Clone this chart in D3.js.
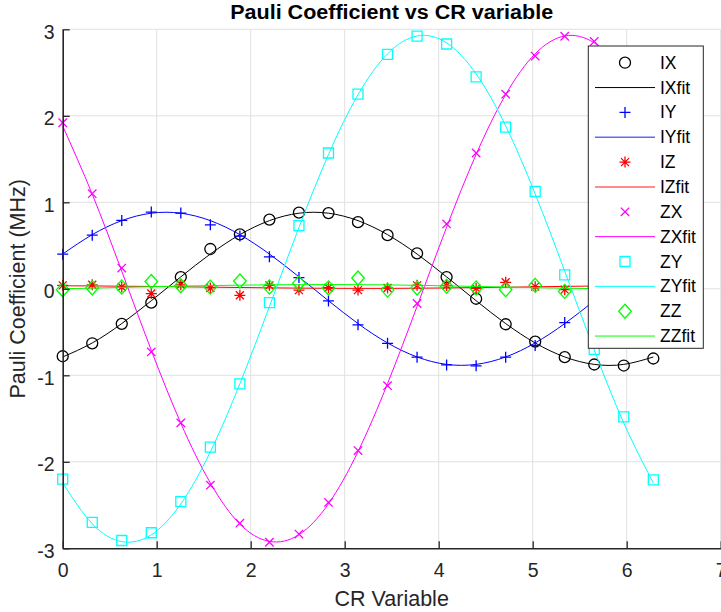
<!DOCTYPE html>
<html>
<head>
<meta charset="utf-8">
<script src="https://cdn.jsdelivr.net/npm/d3@7"></script>
<style>
  html, body { margin: 0; padding: 0; background: #fff; }
  svg { display: block; font-family: "Liberation Sans", Arial, sans-serif; }
</style>
</head>
<body>
<svg id="chart" width="721" height="612"></svg>
<script>
// ---------- data ----------
const xVals = [0, 0.3142, 0.6283, 0.9425, 1.2566, 1.5708, 1.8850, 2.1991, 2.5133, 2.8274,
  3.1416, 3.4558, 3.7699, 4.0841, 4.3982, 4.7124, 5.0265, 5.3407, 5.6549, 5.9690, 6.2832];

const IX    = [-0.78, -0.63, -0.405, -0.16, 0.135, 0.46, 0.63, 0.80, 0.88, 0.875, 0.77, 0.62, 0.41, 0.135, -0.115, -0.41, -0.61, -0.79, -0.875, -0.887, -0.806];
const IXfit = [-0.788, -0.626, -0.402, -0.138, 0.138, 0.402, 0.626, 0.788, 0.874, 0.874, 0.788, 0.626, 0.402, 0.138, -0.138, -0.402, -0.626, -0.788, -0.874, -0.874, -0.788];

const IY    = [0.40, 0.62, 0.79, 0.887, 0.875, 0.74, 0.61, 0.37, 0.13, -0.14, -0.416, -0.63, -0.79, -0.88, -0.89, -0.79, -0.655, -0.39, -0.12, 0.14, 0.40];
const IYfit = [0.402, 0.626, 0.788, 0.874, 0.874, 0.788, 0.626, 0.402, 0.138, -0.138, -0.402, -0.626, -0.788, -0.874, -0.874, -0.788, -0.626, -0.402, -0.138, 0.138, 0.402];

const IZ    = [0.04, 0.046, 0.02, -0.055, 0.046, 0.01, -0.075, 0.04, -0.015, 0.012, -0.015, 0.01, 0.04, 0.038, 0.005, 0.075, 0.025, -0.01, 0.03, 0.05, 0.02];
const IZfit = [0.035, 0.033, 0.030, 0.027, 0.023, 0.019, 0.015, 0.011, 0.008, 0.006, 0.005, 0.005, 0.007, 0.010, 0.014, 0.018, 0.023, 0.028, 0.032, 0.035, 0.037];

const ZX    = [1.92, 1.10, 0.24, -0.73, -1.55, -2.27, -2.71, -2.93, -2.836, -2.47, -1.87, -1.12, -0.17, 0.75, 1.57, 2.25, 2.69, 2.92, 2.86, 2.45, 1.90];
const ZXfit = [1.882, 1.094, 0.203, -0.711, -1.554, -2.245, -2.720, -2.920, -2.843, -2.486, -1.882, -1.096, -0.203, 0.711, 1.554, 2.245, 2.717, 2.923, 2.843, 2.484, 1.882];

const ZY    = [-2.20, -2.70, -2.91, -2.82, -2.46, -1.83, -1.10, -0.16, 0.73, 1.57, 2.25, 2.71, 2.92, 2.83, 2.45, 1.87, 1.125, 0.16, -0.70, -1.48, -2.21];
const ZYfit = [-2.244, -2.716, -2.923, -2.844, -2.487, -1.884, -1.098, -0.205, 0.708, 1.552, 2.244, 2.716, 2.923, 2.843, 2.485, 1.884, 1.097, 0.205, -0.708, -1.552, -2.244];

const ZZ    = [-0.01, 0.01, 0.02, 0.085, 0.035, 0.02, 0.09, 0.02, 0.065, 0.01, 0.125, -0.015, 0.01, 0.03, 0.01, -0.01, 0.04, -0.03, 0.02, 0.01, 0.0];
const ZZfit = [0.0, 0.008, 0.016, 0.024, 0.031, 0.037, 0.042, 0.046, 0.048, 0.049, 0.048, 0.045, 0.040, 0.034, 0.027, 0.020, 0.013, 0.007, 0.002, -0.002, -0.004];

const xTicks = [0, 1, 2, 3, 4, 5, 6, 7];
const yTicks = [-3, -2, -1, 0, 1, 2, 3];

const titleText = "Pauli Coefficient vs CR variable";
const xLabel = "CR Variable";
const yLabel = "Pauli Coefficient (MHz)";

const seriesNames = ["IX", "IY", "IZ", "ZX", "ZY", "ZZ"];
const seriesData  = [IX, IY, IZ, ZX, ZY, ZZ];
const seriesFits  = [IXfit, IYfit, IZfit, ZXfit, ZYfit, ZZfit];
const seriesColors = ["#000000", "#0000ff", "#ff0000", "#ff00ff", "#00ffff", "#00ff00"];
const seriesMarkers = ["circle", "plus", "asterisk", "x", "square", "diamond"];

// ---------- layout ----------
const svg = d3.select("#chart");
const L = 62.7, R = 720.7, T = 29.3, B = 548.3;
const x = d3.scaleLinear().domain([0, 7]).range([L, R]);
const y = d3.scaleLinear().domain([-3, 3]).range([B, T]);
const axisColor = "#262626";

// grid
const grid = svg.append("g");
grid.selectAll("line.gx").data(xTicks.filter(d => d > 0)).join("line")
  .attr("x1", d => x(d)).attr("x2", d => x(d)).attr("y1", T).attr("y2", B)
  .attr("stroke", "#e0e0e0").attr("stroke-width", 1);
grid.selectAll("line.gy").data(yTicks.filter(d => d > -3)).join("line")
  .attr("x1", L).attr("x2", R).attr("y1", d => y(d)).attr("y2", d => y(d))
  .attr("stroke", "#e0e0e0").attr("stroke-width", 1);

// marker path generator
function markerPath(type, cx, cy) {
  const p = d3.path();
  if (type === "circle") { p.moveTo(cx + 5.5, cy); p.arc(cx, cy, 5.5, 0, 2 * Math.PI); }
  else if (type === "plus") { p.moveTo(cx - 5.5, cy); p.lineTo(cx + 5.5, cy); p.moveTo(cx, cy - 5.5); p.lineTo(cx, cy + 5.5); }
  else if (type === "asterisk") {
    p.moveTo(cx - 5.5, cy); p.lineTo(cx + 5.5, cy); p.moveTo(cx, cy - 5.5); p.lineTo(cx, cy + 5.5);
    p.moveTo(cx - 4, cy - 4); p.lineTo(cx + 4, cy + 4); p.moveTo(cx - 4, cy + 4); p.lineTo(cx + 4, cy - 4);
  }
  else if (type === "x") { p.moveTo(cx - 4.2, cy - 4.2); p.lineTo(cx + 4.2, cy + 4.2); p.moveTo(cx - 4.2, cy + 4.2); p.lineTo(cx + 4.2, cy - 4.2); }
  else if (type === "square") { p.rect(cx - 5, cy - 5, 10, 10); }
  else if (type === "diamond") { p.moveTo(cx, cy - 7); p.lineTo(cx + 6.3, cy); p.lineTo(cx, cy + 7); p.lineTo(cx - 6.3, cy); p.closePath(); }
  return p.toString();
}

const line = d3.line().x((d, i) => x(xVals[i])).y(d => y(d)).curve(d3.curveNatural);

const plot = svg.append("g");
seriesNames.forEach((name, si) => {
  const col = seriesColors[si];
  plot.append("g").selectAll("path").data(seriesData[si]).join("path")
    .attr("d", (d, i) => markerPath(seriesMarkers[si], x(xVals[i]), y(d)))
    .attr("fill", "none").attr("stroke", col).attr("stroke-width", 1.3);
  plot.append("path").datum(seriesFits[si])
    .attr("d", line).attr("fill", "none").attr("stroke", col).attr("stroke-width", 1);
});

// axes
const fmt = d => String(d);
const yAxis = d3.axisLeft(y).tickValues(yTicks).tickFormat(fmt).tickSize(-7).tickSizeOuter(0).tickPadding(8);
const xAxis = d3.axisBottom(x).tickValues(xTicks).tickFormat(fmt).tickSize(-7).tickSizeOuter(0).tickPadding(15);
const gy = svg.append("g").attr("transform", `translate(${L},0)`).call(yAxis);
const gx = svg.append("g").attr("transform", `translate(0,${B})`).call(xAxis);
[gx, gy].forEach(g => {
  g.select(".domain").attr("stroke", axisColor).attr("stroke-width", 1.6);
  g.selectAll(".tick line").attr("stroke", axisColor).attr("stroke-width", 1.3);
  g.selectAll(".tick text").attr("fill", axisColor).style("font-size", "19.5px")
    .style("font-family", '"Liberation Sans", Arial, sans-serif');
});
gy.selectAll(".tick text").attr("dy", "0.45em");

// labels
svg.append("text").attr("x", (L + R) / 2).attr("y", 606).attr("text-anchor", "middle")
  .attr("fill", axisColor).style("font-size", "21.5px").text(xLabel);
svg.append("text").attr("transform", `translate(25,${(T + B) / 2}) rotate(-90)`).attr("text-anchor", "middle")
  .attr("fill", axisColor).style("font-size", "21.5px").text(yLabel);
svg.append("text").attr("x", (L + R) / 2).attr("y", 19).attr("text-anchor", "middle")
  .attr("fill", "#000").style("font-size", "20px").style("font-weight", "bold")
  .attr("textLength", 323).attr("lengthAdjust", "spacingAndGlyphs").text(titleText);

// legend
const lg = svg.append("g");
lg.append("rect").attr("x", 588.3).attr("y", 46).attr("width", 115).attr("height", 302.3)
  .attr("fill", "#fff").attr("stroke", axisColor).attr("stroke-width", 1);
const rowH = 24.85, row0 = 62.7;
seriesNames.forEach((name, si) => {
  const col = seriesColors[si];
  const ym = row0 + (2 * si) * rowH;
  const yl = row0 + (2 * si + 1) * rowH;
  lg.append("path").attr("d", markerPath(seriesMarkers[si], 625, ym))
    .attr("fill", "none").attr("stroke", col).attr("stroke-width", 1.3);
  lg.append("text").attr("x", 660).attr("y", ym + 6).attr("fill", "#000").style("font-size", "17.5px").text(name);
  lg.append("line").attr("x1", 595).attr("x2", 655).attr("y1", yl).attr("y2", yl)
    .attr("stroke", col).attr("stroke-width", (si === 1 || si === 2) ? 1.6 : 1)
    .attr("stroke-opacity", (si === 1 || si === 2) ? 0.6 : 1);
  lg.append("text").attr("x", 660).attr("y", yl + 6).attr("fill", "#000").style("font-size", "17.5px").text(name + "fit");
});
</script>
</body>
</html>
